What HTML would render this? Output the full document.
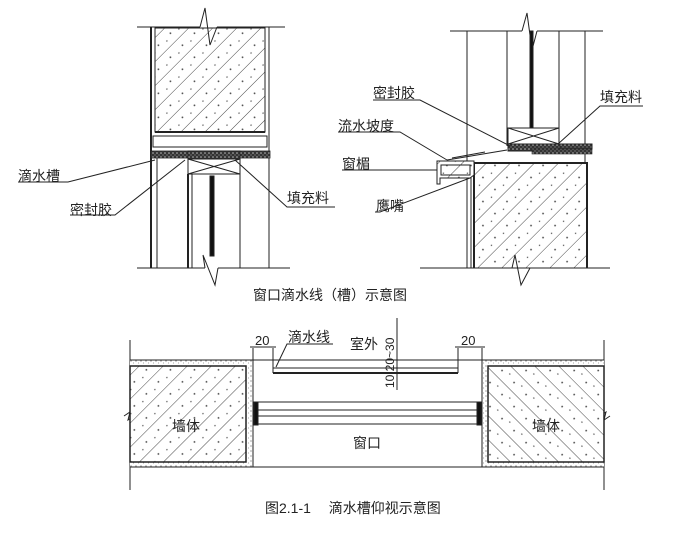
<!DOCTYPE html>
<html><head><meta charset="utf-8"><style>
html,body{margin:0;padding:0;background:#fff;}
svg{display:block;}
text{font-family:"Liberation Sans","Noto Sans CJK SC",sans-serif;fill:#222;}
</style></head><body>
<svg width="676" height="535" viewBox="0 0 676 535" xmlns="http://www.w3.org/2000/svg">
<defs>
<pattern id="h1" width="17" height="17" patternUnits="userSpaceOnUse" patternTransform="rotate(45)">
<rect width="17" height="17" fill="#fff"/>
<line x1="0" y1="0" x2="0" y2="17" stroke="#333" stroke-width="0.9"/>
<circle cx="8" cy="5" r="0.9" fill="#444"/><circle cx="11" cy="13" r="0.7" fill="#555"/>
</pattern>
<pattern id="h2" width="17" height="17" patternUnits="userSpaceOnUse" patternTransform="rotate(-45)">
<rect width="17" height="17" fill="#fff"/>
<line x1="0" y1="0" x2="0" y2="17" stroke="#333" stroke-width="0.9"/>
<circle cx="8" cy="5" r="0.9" fill="#444"/><circle cx="11" cy="13" r="0.7" fill="#555"/>
</pattern>
<pattern id="dots" width="5" height="5" patternUnits="userSpaceOnUse">
<rect width="5" height="5" fill="#fff"/><circle cx="1" cy="1" r="0.6" fill="#666"/><circle cx="3.5" cy="3" r="0.5" fill="#888"/>
</pattern>
<pattern id="seal" width="4" height="4" patternUnits="userSpaceOnUse">
<rect width="4" height="4" fill="#333"/><circle cx="1" cy="1" r="0.8" fill="#bbb"/><circle cx="3" cy="3" r="0.6" fill="#999"/>
</pattern>
</defs>
<g stroke="#222" fill="none" stroke-width="1">
<!-- LEFT TOP DIAGRAM -->
<rect x="155" y="28" width="110" height="104" fill="url(#h1)"/>
<line x1="137" y1="27" x2="200" y2="27"/><line x1="217" y1="27" x2="285" y2="27"/>
<polyline points="200,27 205,8 210,45 217,27"/>
<line x1="155" y1="132" x2="265" y2="132" stroke-width="2"/>
<line x1="151" y1="27" x2="151" y2="268" stroke-width="2"/>
<line x1="269" y1="27" x2="269" y2="268"/>
<rect x="153" y="136" width="114" height="11"/>
<rect x="151" y="151" width="119" height="7" fill="url(#seal)" stroke-width="0.8"/>
<rect x="188" y="151" width="52" height="8" fill="url(#seal)"/>
<rect x="188" y="159" width="52" height="15"/>
<line x1="188" y1="159" x2="240" y2="174"/><line x1="240" y1="159" x2="188" y2="174"/>
<line x1="157" y1="158" x2="157" y2="268"/>
<line x1="188" y1="174" x2="188" y2="268" stroke-width="2"/>
<line x1="192" y1="174" x2="192" y2="268"/>
<rect x="210" y="176" width="4" height="80" fill="#111"/>
<line x1="240" y1="174" x2="240" y2="268"/>
<line x1="137" y1="268" x2="205" y2="268"/><line x1="218" y1="268" x2="290" y2="268"/>
<polyline points="205,268 203,255 215,285 218,268"/>
<polyline points="18,182 68,182 155,160"/>
<polyline points="70,215 115,215 185,160"/>
<polyline points="335,207 287,207 235,160"/>
<!-- RIGHT TOP DIAGRAM -->
<line x1="450" y1="31" x2="522" y2="31"/><line x1="537" y1="31" x2="603" y2="31"/>
<polyline points="522,31 527,13 532,50 537,31"/>
<line x1="467" y1="31" x2="467" y2="268"/>
<line x1="471" y1="163" x2="471" y2="268"/>
<line x1="507" y1="31" x2="507" y2="146"/>
<rect x="530" y="31" width="3" height="97" fill="#111"/>
<line x1="559" y1="31" x2="559" y2="128"/>
<line x1="585" y1="31" x2="585" y2="268"/>
<rect x="508" y="128" width="51" height="16"/>
<line x1="508" y1="128" x2="559" y2="144"/><line x1="559" y1="128" x2="508" y2="144"/>
<rect x="508" y="144" width="52" height="7" fill="url(#seal)"/>
<rect x="560" y="144" width="32" height="5" fill="url(#seal)"/>
<rect x="532" y="149" width="60" height="5" fill="url(#seal)" stroke-width="0.6"/>
<line x1="447" y1="160" x2="507" y2="150"/>
<line x1="452" y1="158" x2="485" y2="152"/>
<rect x="474" y="163" width="113" height="105" fill="url(#h1)"/>
<polyline points="474,268 474,163 587,163 587,268" stroke-width="2"/>
<path d="M437,161 L474,161 L474,175 L470,178 L440,178 L440,184 L437,184 Z" fill="url(#h1)"/>
<path d="M441,165 L470,165 L470,175 L441,175 Z"/>
<line x1="420" y1="268" x2="512" y2="268"/><line x1="530" y1="268" x2="610" y2="268"/>
<polyline points="512,268 515,255 521,285 530,268"/>
<polyline points="373,100 420,100 510,146"/>
<polyline points="643,106 600,106 558,144"/>
<polyline points="338,132 400,132 447,160"/>
<line x1="342" y1="170" x2="437" y2="170"/>
<polyline points="375,212 380,212 470,178"/>
<!-- BOTTOM DIAGRAM -->
<line x1="130" y1="340" x2="130" y2="490"/>
<line x1="604" y1="340" x2="604" y2="490"/>
<polyline points="124,416 130,412 128,420 134,416"/>
<polyline points="600,416 606,412 604,420 610,416"/>
<rect x="130" y="360" width="123" height="107" fill="url(#dots)" stroke="none"/>
<rect x="482" y="360" width="122" height="107" fill="url(#dots)" stroke="none"/>
<rect x="130" y="366" width="116" height="96" fill="url(#h1)" stroke-width="1.5"/>
<rect x="488" y="366" width="116" height="96" fill="url(#h2)" stroke-width="1.5"/>
<line x1="130" y1="360" x2="604" y2="360"/>
<line x1="130" y1="467" x2="604" y2="467"/>
<line x1="253" y1="360" x2="253" y2="467"/>
<line x1="482" y1="360" x2="482" y2="467"/>
<line x1="273" y1="348" x2="273" y2="373"/>
<line x1="458" y1="348" x2="458" y2="373"/>
<line x1="273" y1="368" x2="458" y2="368"/>
<line x1="273" y1="373" x2="458" y2="373" stroke-width="2"/>
<line x1="253" y1="348" x2="253" y2="360"/><line x1="482" y1="348" x2="482" y2="360"/>
<line x1="250" y1="347" x2="276" y2="347"/><line x1="455" y1="347" x2="485" y2="347"/>
<line x1="397" y1="318" x2="397" y2="390"/>
<line x1="258" y1="402" x2="477" y2="402"/><line x1="258" y1="410" x2="477" y2="410"/>
<line x1="258" y1="416" x2="477" y2="416"/><line x1="258" y1="424" x2="477" y2="424"/>
<rect x="254" y="402" width="4" height="23" fill="#111"/>
<rect x="477" y="402" width="4" height="23" fill="#111"/>
<polyline points="333,344 287,344 276,367"/>
</g>
<g font-size="14">
<text x="18" y="181">滴水槽</text>
<text x="70" y="215">密封胶</text>
<text x="287" y="203">填充料</text>
<text x="373" y="98">密封胶</text>
<text x="600" y="102">填充料</text>
<text x="338" y="131">流水坡度</text>
<text x="342" y="169">窗楣</text>
<text x="376" y="211">鹰嘴</text>
<text x="253" y="300">窗口滴水线（槽）示意图</text>
<text x="288" y="342">滴水线</text>
<text x="350" y="349">室外</text>
<text x="172" y="431">墙体</text>
<text x="532" y="431">墙体</text>
<text x="353" y="448">窗口</text>
<text x="265" y="513">图2.1-1　 滴水槽仰视示意图</text>
<text x="255" y="345" font-size="13">20</text>
<text x="461" y="345" font-size="13">20</text>
<text transform="translate(394,388) rotate(-90)" font-size="12">10  20~30</text>
</g>
</svg>
</body></html>
